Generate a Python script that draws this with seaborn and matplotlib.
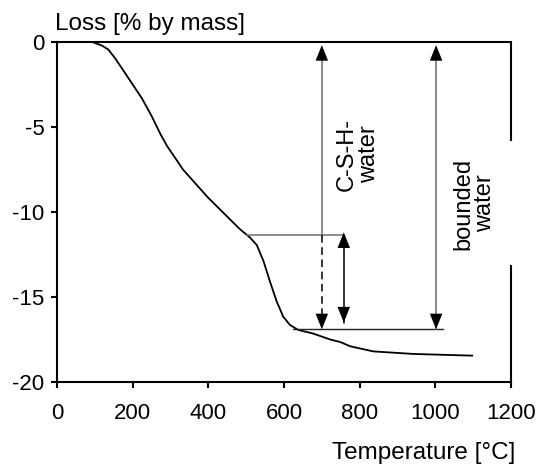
import matplotlib
matplotlib.use("Agg")
import matplotlib.pyplot as plt
import seaborn as sns
import pandas as pd
from matplotlib.patches import ArrowStyle

# ---- data ----
temperature = [95, 100, 118, 136, 153, 171, 197, 224, 250, 273, 291, 333, 365,
               397, 458, 484, 510, 528, 546, 563, 581, 598, 616, 638, 677,
               722, 749, 775, 836, 942, 1098]
loss = [0.0, -0.06, -0.2, -0.45, -0.94, -1.53, -2.4, -3.3, -4.35, -5.4, -6.12,
        -7.5, -8.3, -9.1, -10.45, -11.02, -11.5, -11.94, -12.9, -14.1,
        -15.28, -16.16, -16.65, -16.94, -17.15, -17.5, -17.65, -17.9, -18.2,
        -18.35, -18.45]

x_ticks = [0, 200, 400, 600, 800, 1000, 1200]
y_ticks = [0, -5, -10, -15, -20]

knee_level = -11.35      # upper reference level
plateau_level = -16.9    # lower reference level
csh_x = 700
short_x = 758
bound_x = 1002

sns.set_style("ticks")
plt.rcParams["font.family"] = ["Liberation Sans", "DejaVu Sans"]
plt.rcParams["text.color"] = "black"

fig = plt.figure(figsize=(5.47, 4.70), dpi=100)
ax = fig.add_axes([57/547, 1-382/470, (511-57)/547, (382-42)/470])

df = pd.DataFrame({"T": temperature, "loss": loss})
sns.lineplot(data=df, x="T", y="loss", ax=ax, color="black", lw=1.3,
             estimator=None, sort=False)
ax.lines[0].set_solid_joinstyle("round")

ax.set_xlim(0, 1200)
ax.set_ylim(-20, 0)
ax.set_xticks(x_ticks)
ax.set_yticks(y_ticks)
ax.set_xticklabels([str(v) for v in x_ticks])
ax.set_yticklabels([str(v) for v in y_ticks])
ax.set_xlabel("")
ax.set_ylabel("")
ax.tick_params(axis="both", direction="out", length=4, width=1.5,
               labelsize=16, color="black", labelcolor="black")
ax.tick_params(axis="x", pad=11)
ax.tick_params(axis="y", pad=5)

for s in ["left", "bottom", "top", "right"]:
    ax.spines[s].set_linewidth(1.5)
    ax.spines[s].set_color("black")
ax.spines["right"].set_bounds(-20, -13.2)
ax.plot([1200, 1200], [0, -5.8], color="black", lw=1.5, clip_on=False,
        solid_capstyle="butt")

# reference levels
ax.plot([502, 757], [knee_level, knee_level], color="#7a7a7a", lw=1.2)
ax.plot([624, 1021], [plateau_level, plateau_level], color="#222222", lw=1.0)

# vertical shafts
ax.plot([csh_x, csh_x], [-0.4, knee_level], color="#777777", lw=1.2)
ax.plot([csh_x, csh_x], [knee_level, plateau_level + 0.5], color="black",
        lw=1.1, ls=(0, (5, 3)))
ax.plot([short_x, short_x], [knee_level, -16.5], color="black", lw=1.1)
ax.plot([bound_x, bound_x], [-0.4, plateau_level], color="#777777", lw=1.2)

head = ArrowStyle("-|>", head_length=0.75, head_width=0.3)

def arrow_head(x, tip, tail):
    ax.annotate("", xy=(x, tip), xytext=(x, tail),
                arrowprops=dict(arrowstyle=head, mutation_scale=15,
                                facecolor="black", lw=0,
                                shrinkA=0, shrinkB=0))

arrow_head(csh_x, -0.18, -2)
arrow_head(csh_x, plateau_level, plateau_level + 2)
arrow_head(short_x, -11.2, -13)
arrow_head(short_x, -16.5, -14.7)
arrow_head(bound_x, -0.18, -2)
arrow_head(bound_x, plateau_level, plateau_level + 2)

ax.text(795, -6.6, "C-S-H-\nwater", rotation=90, ha="center", va="center",
        fontsize=17, multialignment="center", linespacing=1.0,
        color="black")
ax.text(1103, -9.5, "bounded\nwater", rotation=90, ha="center", va="center",
        fontsize=17, multialignment="center", linespacing=1.0, color="black",
        bbox=dict(facecolor="white", edgecolor="none", pad=2))

fig.text(55/547, 1-30/470, "Loss [% by mass]", fontsize=17.5, va="baseline",
         ha="left", color="black")
fig.text(515/547, 1-453/470, "Temperature [°C]", fontsize=17.5, va="center",
         ha="right", color="black")

fig.savefig("out.png", dpi=100)
